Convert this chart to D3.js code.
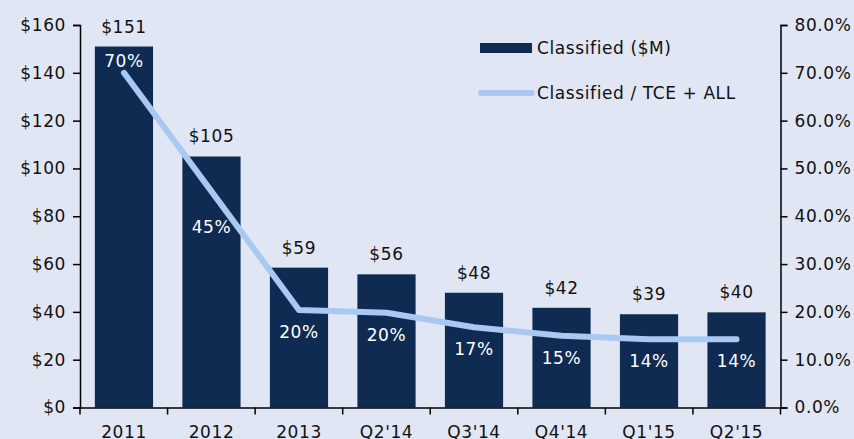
<!DOCTYPE html>
<html><head><meta charset="utf-8">
<script src="https://cdn.jsdelivr.net/npm/d3@7"></script>
<style>
html,body{margin:0;padding:0;background:#e0e6f4;}
svg text{font-family:"DejaVu Sans",sans-serif;fill:#111;letter-spacing:0.6px;}
</style></head><body>
<svg id="c" width="854" height="439"></svg>
<script>
const categories = ["2011","2012","2013","Q2'14","Q3'14","Q4'14","Q1'15","Q2'15"];
const classifiedValues = [151, 105, 58.5, 55.7, 48, 41.7, 39, 39.8];
const classifiedLabels = ["$151","$105","$59","$56","$48","$42","$39","$40"];
const ratioValues = [70, 45.2, 20.4, 19.8, 16.8, 15, 14.3, 14.3];
const ratioLabels = ["70%","45%","20%","20%","17%","15%","14%","14%"];
const leftTicks = [0,20,40,60,80,100,120,140,160];
const rightTicks = [0,10,20,30,40,50,60,70,80];
const seriesNames = ["Classified ($M)","Classified / TCE + ALL"];

const svg = d3.select("#c");
const L = 80, R = 780.5, T = 25, B = 407.5;
const barColor = "#0f2b52", lineColor = "#a9c9f2";
const FS = 17;

const x = d3.scaleBand().domain(categories).range([L, R]).paddingInner(0.335).paddingOuter(0.17);
const yL = d3.scaleLinear().domain([0,160]).range([B, T]);
const yR = d3.scaleLinear().domain([0,80]).range([B, T]);

// bars
svg.append("g").selectAll("rect").data(categories).join("rect")
  .attr("x", d => x(d)).attr("width", x.bandwidth())
  .attr("y", (d,i) => yL(classifiedValues[i]))
  .attr("height", (d,i) => B - yL(classifiedValues[i]))
  .attr("fill", barColor);

// bar value labels
svg.append("g").selectAll("text").data(categories).join("text")
  .attr("x", d => x(d) + x.bandwidth()/2)
  .attr("y", (d,i) => yL(classifiedValues[i]) - 14)
  .attr("text-anchor","middle").attr("font-size",FS)
  .text((d,i) => classifiedLabels[i]);

// line
const cx = d => x(d) + x.bandwidth()/2;
svg.append("path")
  .datum(categories)
  .attr("fill","none").attr("stroke",lineColor).attr("stroke-width",6)
  .attr("stroke-linecap","round").attr("stroke-linejoin","round")
  .attr("d", d3.line().x(d => cx(d)).y((d,i) => yR(ratioValues[i])));

// ratio labels
const labelDy = i => i === 0 ? -6 : (i === 1 ? 42 : 28);
svg.append("g").selectAll("text").data(categories).join("text")
  .attr("x", d => cx(d))
  .attr("y", (d,i) => yR(ratioValues[i]) + labelDy(i))
  .attr("text-anchor","middle").attr("font-size",FS)
  .style("fill","#ffffff")
  .text((d,i) => ratioLabels[i]);

// axes
const axL = svg.append("g").attr("transform",`translate(${L},0)`)
  .call(d3.axisLeft(yL).tickValues(leftTicks).tickSize(7).tickFormat(d => "$" + d));
const axR = svg.append("g").attr("transform",`translate(${R},0)`)
  .call(d3.axisRight(yR).tickValues(rightTicks).tickSize(7).tickFormat(d => d.toFixed(1) + "%"));
const axB = svg.append("g").attr("transform",`translate(0,${B})`)
  .call(d3.axisBottom(x).tickSize(0).tickPadding(18));
// category separators on x axis
svg.append("g").selectAll("line").data(d3.range(categories.length + 1)).join("line")
  .attr("x1", i => L + i * (R - L) / categories.length)
  .attr("x2", i => L + i * (R - L) / categories.length)
  .attr("y1", B).attr("y2", B + 7).attr("stroke","#000").attr("stroke-width",1.5);

[axL, axR, axB].forEach(g => {
  g.select(".domain").attr("stroke","#000").attr("stroke-width",1.5);
  g.selectAll(".tick line").attr("stroke","#000").attr("stroke-width",1.5);
  g.selectAll("text").attr("font-size",FS).attr("font-family","DejaVu Sans, sans-serif").attr("fill","#111");
});
axL.selectAll("text").attr("dx", -4);
axR.selectAll("text").attr("dx", 4);

// legend
const lg = svg.append("g");
lg.append("rect").attr("x",480).attr("y",43).attr("width",52).attr("height",10).attr("fill",barColor);
lg.append("text").attr("x",537).attr("y",48).attr("dy","0.35em").attr("font-size",FS).text(seriesNames[0]);
lg.append("line").attr("x1",481).attr("x2",532).attr("y1",93).attr("y2",93)
  .attr("stroke",lineColor).attr("stroke-width",6).attr("stroke-linecap","round");
lg.append("text").attr("x",537).attr("y",93).attr("dy","0.35em").attr("font-size",FS).text(seriesNames[1]);
</script>
</body></html>
